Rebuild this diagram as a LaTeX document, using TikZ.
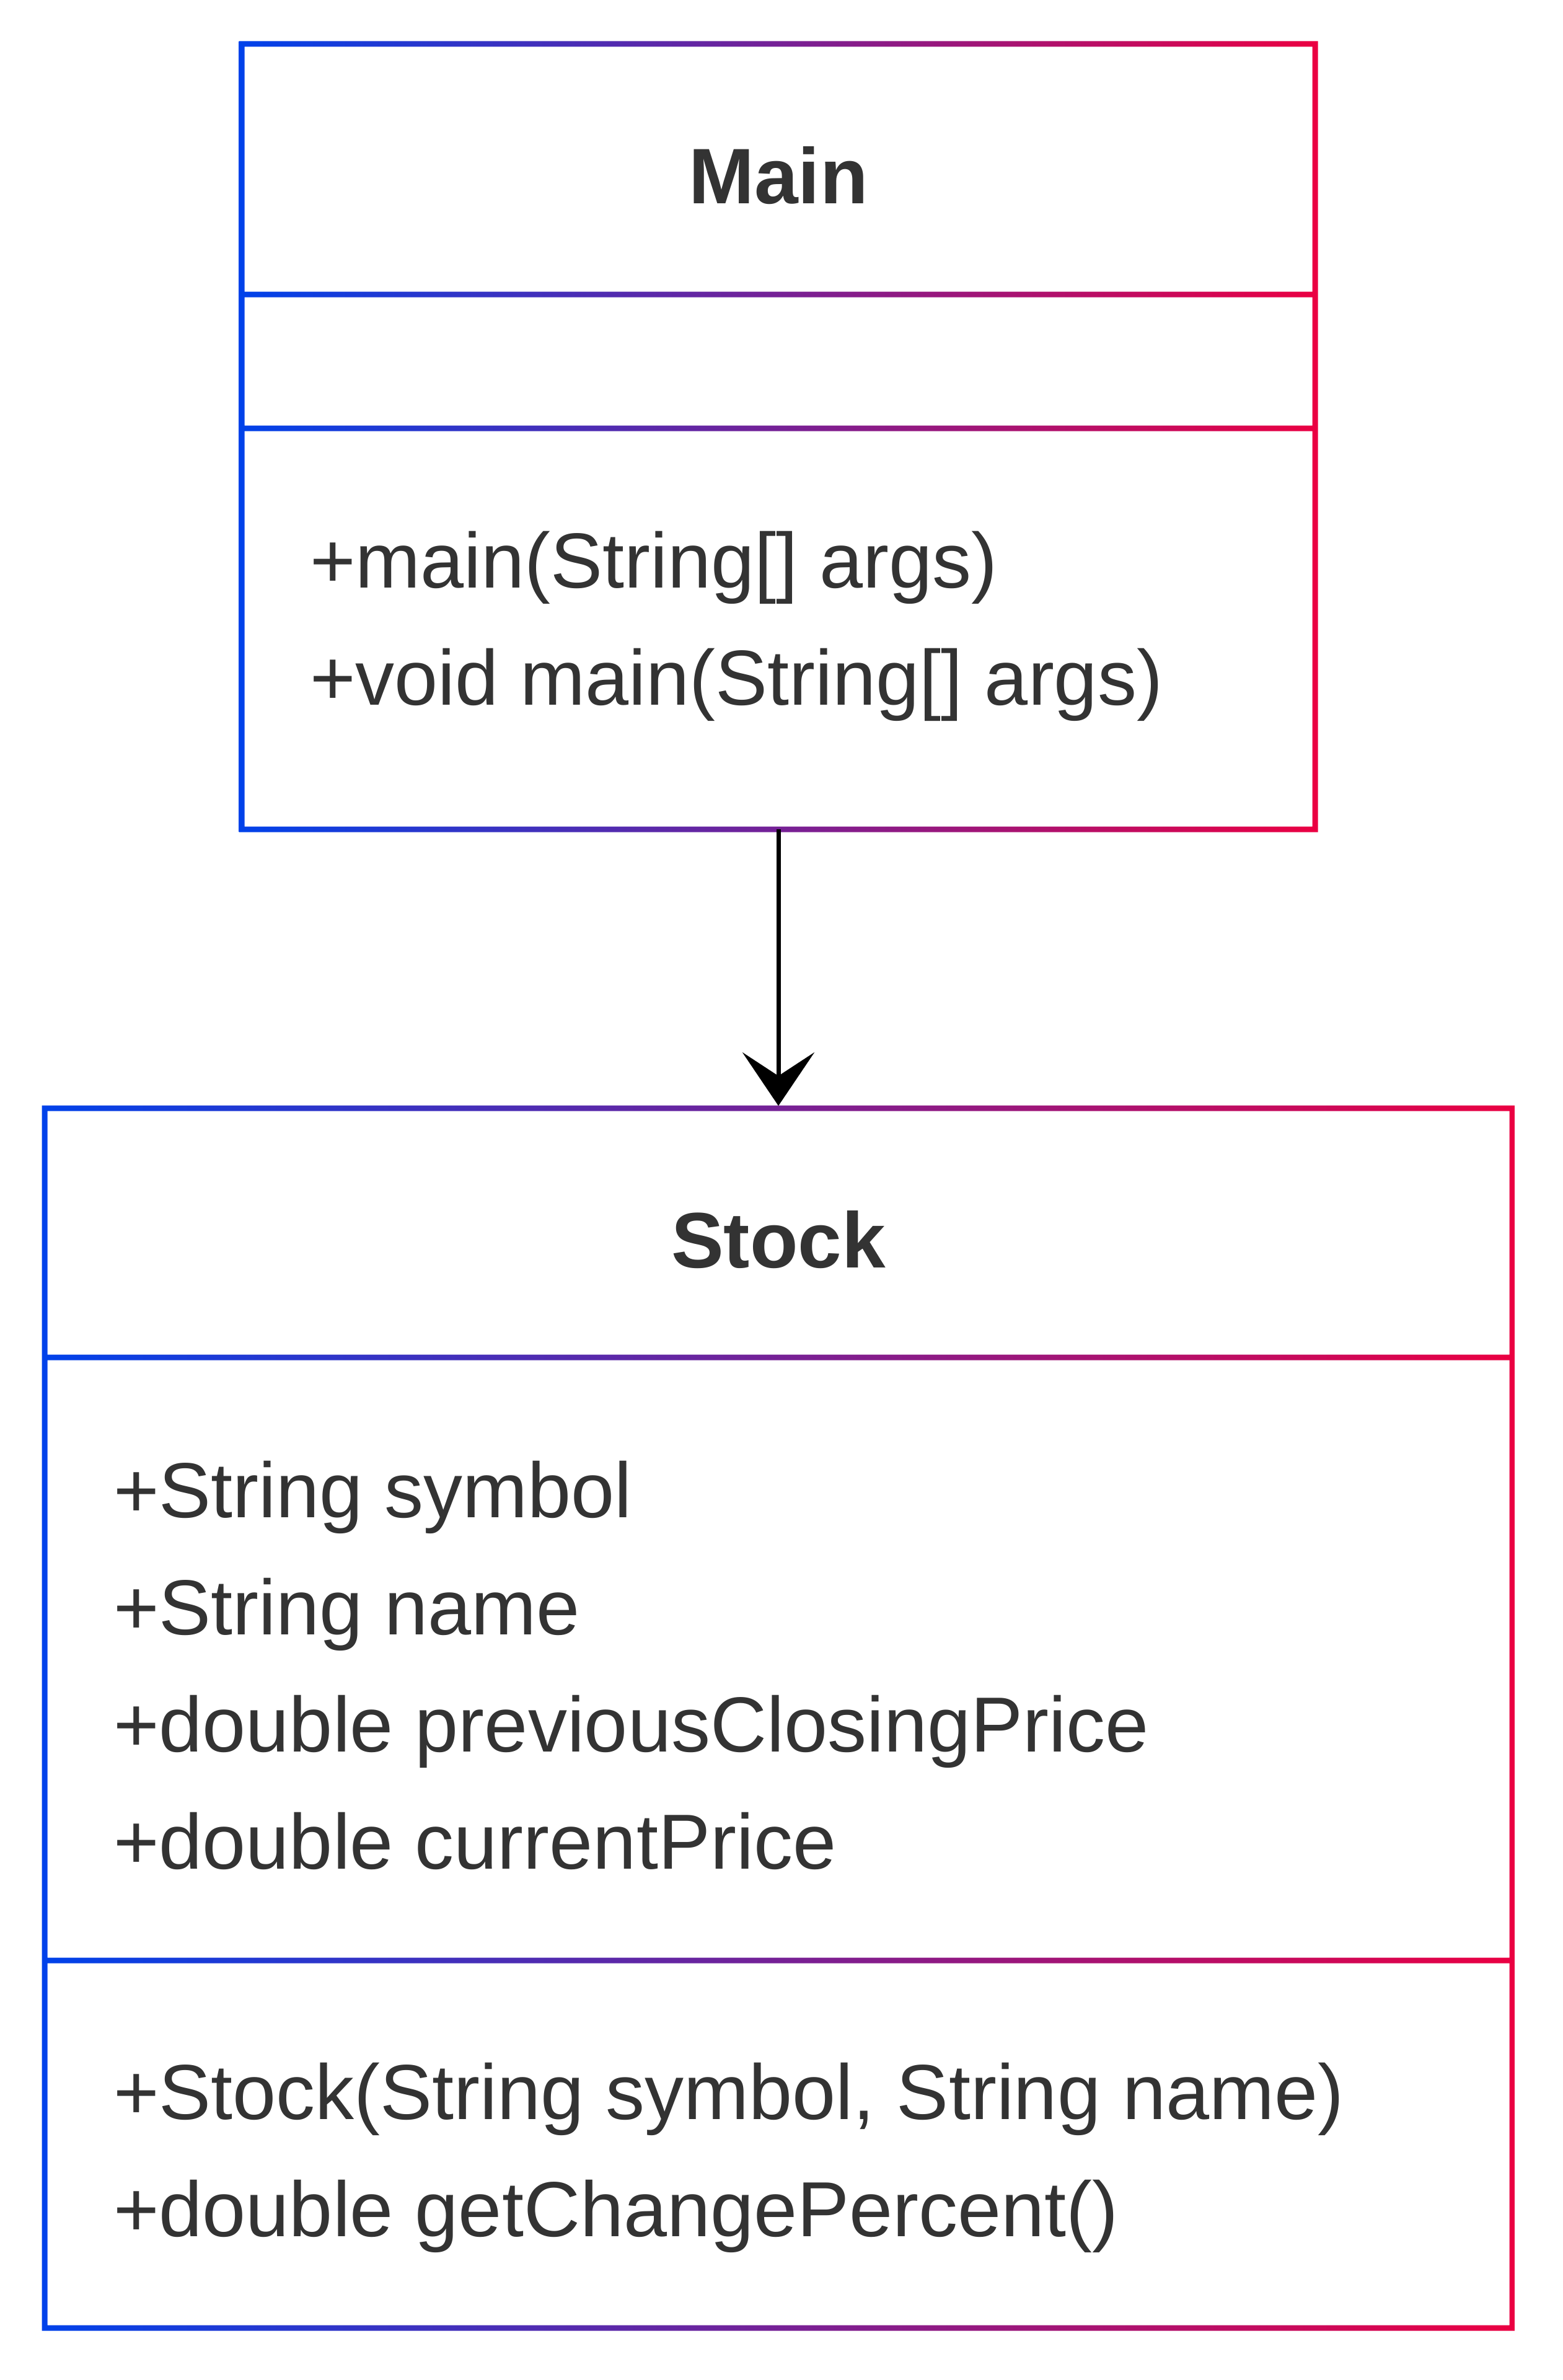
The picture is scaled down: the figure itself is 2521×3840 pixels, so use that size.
\documentclass[tikz,border=0pt]{standalone}
\usepackage{fontspec}
\setmainfont{Liberation Sans}
\usetikzlibrary{arrows.meta}
\definecolor{gblue}{RGB}{0,66,234}
\definecolor{gred}{RGB}{235,0,66}
\definecolor{txt}{RGB}{51,51,51}
\tikzset{
  classbox/.style={rectangle, inner sep=0pt, outer sep=0pt, draw=none},
  gradframe/.style={left color=gblue, right color=gred},
  classtitle/.style={font=\fontsize{127}{150}\selectfont\bfseries, text=txt, anchor=base, inner sep=0pt},
  member/.style={font=\fontsize{126}{150}\selectfont, text=txt, anchor=base west, inner sep=0pt},
  assoc/.style={line width=7pt, draw=black, -{Stealth[length=86pt, width=116pt, inset=38pt, line width=0.01pt]}, shorten >=4pt},
}
% #1 left, #2 right, #3 top, #4 bottom, #5 divider 1, #6 divider 2
\newcommand{\umlframe}[6]{%
  \shade[gradframe]
    ({#1-4.5},{#3-4.5}) rectangle ({#2+4.5},{#3+4.5})
    ({#1-4.5},{#4-4.5}) rectangle ({#2+4.5},{#4+4.5})
    ({#1-4.5},{#3-4.5}) rectangle ({#1+4.5},{#4+4.5})
    ({#2-4.5},{#3-4.5}) rectangle ({#2+4.5},{#4+4.5})
    ({#1-4.5},{#5-4.5}) rectangle ({#2+4.5},{#5+4.5})
    ({#1-4.5},{#6-4.5}) rectangle ({#2+4.5},{#6+4.5});
}
\begin{document}
\begin{tikzpicture}[x=1pt, y=-1pt]
\useasboundingbox[fill=white] (0,0) rectangle (2521,3840);

% class boxes
\node[classbox, minimum width=1732pt, minimum height=1267pt] (main) at (1256,704.5) {};
\node[classbox, minimum width=2368pt, minimum height=1968pt] (stock) at (1256,2772) {};

\umlframe{390}{2122}{71}{1338}{475}{691}
\umlframe{72}{2440}{1788}{3756}{2190}{3163}

% Main
\node[classtitle] (mainT) at (1256,328) {Main};
\node[member] (m1) at (500,948) {+main(String[] args)};
\node[member] (m2) at (500,1137) {+void main(String[] args)};

% Stock
\node[classtitle] (stockT) at (1256,2045) {Stock};
\node[member] (a1) at (183,2448) {+String symbol};
\node[member] (a2) at (183,2637) {+String name};
\node[member] (a3) at (183,2826) {+double previousClosingPrice};
\node[member] (a4) at (183,3015) {+double currentPrice};
\node[member] (s1) at (183,3419) {+Stock(String symbol, String name)};
\node[member] (s2) at (183,3608) {+double getChangePercent()};

% relation
\draw[assoc] (main.south) -- (stock.north);
\end{tikzpicture}
\end{document}
